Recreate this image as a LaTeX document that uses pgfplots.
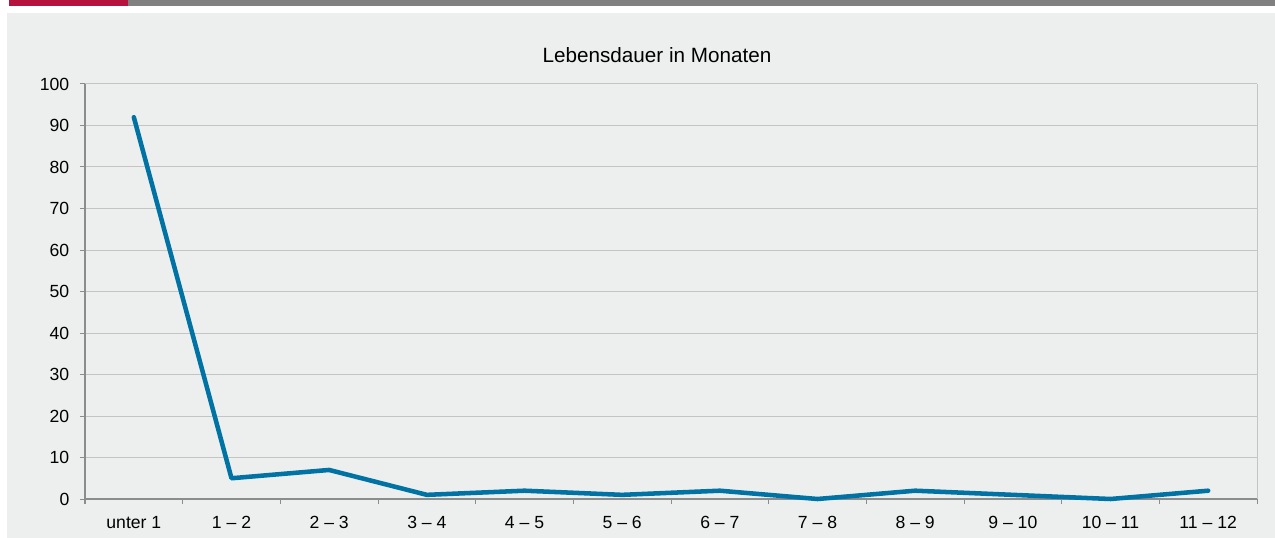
\documentclass[border=0pt]{standalone}
\usepackage{fontspec}
\setmainfont{Liberation Sans}
\usepackage{pgfplots}
\pgfplotsset{compat=1.18}
\definecolor{bg}{HTML}{EDEFEE}
\definecolor{barred}{HTML}{B5123E}
\definecolor{bargray}{HTML}{808080}
\definecolor{linecol}{HTML}{0072A3}
\definecolor{gridcol}{HTML}{C4C4C4}
\definecolor{axisgray}{HTML}{8C8C8C}
\begin{document}
\begin{tikzpicture}
\begin{scope}[x=0.75pt,y=-0.75pt]
\path[use as bounding box] (0,0) rectangle (1275,538);
\fill[white] (0,0) rectangle (1275,538);
\fill[bargray] (128,0) rectangle (1275,6);
\fill[barred] (9,0) rectangle (128,6);
\fill[bg] (7,13) rectangle (1275,538);
\node[font=\fontsize{15.5}{18}\selectfont] at (657,55) {Lebensdauer in Monaten};
\end{scope}
\begin{axis}[
  at={(63.75pt,-374.25pt)}, anchor=south west,
  width=879pt, height=311.25pt, scale only axis,
  xmin=-0.5, xmax=11.5, ymin=0, ymax=100,
  clip=false,
  axis x line*=bottom, axis y line*=left,
  axis line style={axisgray, line width=0.9pt, -},
  xtick={0,...,11},
  xticklabels={unter 1, 1 – 2, 2 – 3, 3 – 4, 4 – 5, 5 – 6, 6 – 7, 7 – 8, 8 – 9, 9 – 10, 10 – 11, 11 – 12},
  minor xtick={-0.5,0.5,...,11.5},
  major x tick style={draw=none},
  minor x tick style={axisgray, line width=0.75pt},
  ytick={0,10,...,100},
  y tick style={axisgray, line width=0.75pt},
  tick align=outside,
  major tick length=3.75pt, minor tick length=3.75pt,
  ymajorgrids, grid style={gridcol, line width=0.75pt},
  ticklabel style={font=\fontsize{13.2}{15}\selectfont, text=black},
  /pgf/number format/assume math mode=true,
  xticklabel style={yshift=-5.5pt},
  yticklabel style={xshift=-4.5pt},
]
\draw[gridcol, line width=0.75pt] (rel axis cs:1,0) -- (rel axis cs:1,1);
\addplot[linecol, line width=3.4pt, line cap=round, line join=round] coordinates {
(0,92) (1,5) (2,7) (3,1) (4,2) (5,1) (6,2) (7,0) (8,2) (9,1) (10,0) (11,2)
};
\end{axis}
\end{tikzpicture}
\end{document}
